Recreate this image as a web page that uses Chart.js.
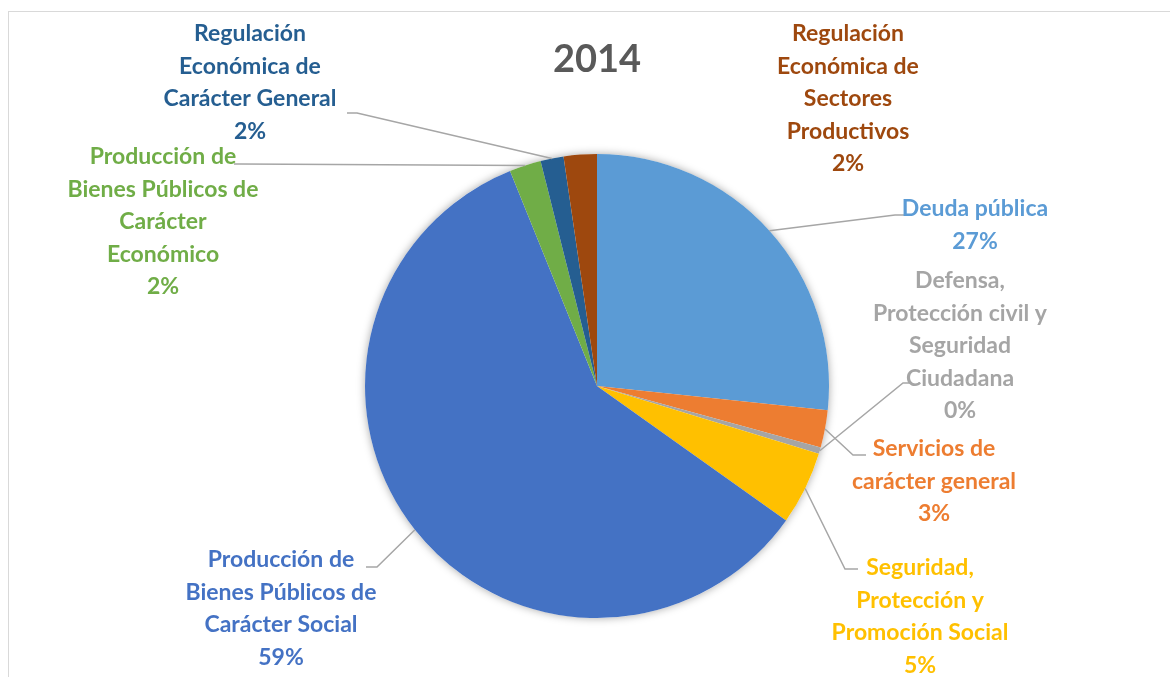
<!DOCTYPE html>
<html lang="es">
<head>
    <meta charset="UTF-8">
    <title>2014</title>
    <script src="https://cdn.jsdelivr.net/npm/chart.js@4.4.1/dist/chart.umd.min.js"></script>
    <style>
        body { margin: 0; background: #fff; }
        .wrap { position: relative; width: 1170px; height: 677px; }
        .frame { position: absolute; left: 8px; top: 11px; right: -2px; bottom: -2px;
                 border-left: 1px solid #d9d9d9; border-top: 1px solid #d9d9d9; }
        canvas { position: absolute; left: 0; top: 0; }
    </style>
</head>
<body>
    <div class="wrap">
        <div class="frame"></div>
        <canvas id="pieChart"></canvas>
    </div>

    <script>
        // Data (clockwise from 12 o'clock)
        const categories = [
            ['Deuda pública'],
            ['Servicios de', 'carácter general'],
            ['Defensa,', 'Protección civil y', 'Seguridad', 'Ciudadana'],
            ['Seguridad,', 'Protección y', 'Promoción Social'],
            ['Producción de', 'Bienes Públicos de', 'Carácter Social'],
            ['Producción de', 'Bienes Públicos de', 'Carácter', 'Económico'],
            ['Regulación', 'Económica de', 'Carácter General'],
            ['Regulación', 'Económica de', 'Sectores', 'Productivos']
        ];
        const shares = [26.6, 2.6, 0.45, 5.1, 58.9, 2.2, 1.6, 2.3];
        const colors = ['#5B9BD5', '#ED7D31', '#A5A5A5', '#FFC000', '#4472C4', '#70AD47', '#255E91', '#9E480E'];

        // label layout: centre x, first line y
        const labelPos = [
            [975, 209], [934, 449], [960, 281], [920, 568],
            [281, 560], [163, 157], [250, 34], [848, 34]
        ];
        // leader lines: elbow x, elbow y, end x, end y
        const leaders = [
            [895, 215, 906, 215],
            [853, 455, 866, 455],
            [903, 383, 912, 383],
            [845, 569, 858, 569],
            [377, 567, 366, 567],
            [240, 164, 234, 164],
            [357, 113, 347, 113],
            null
        ];

        const total = shares.reduce((a, b) => a + b, 0);

        // soft shadow behind the pie
        const shadowPlugin = {
            id: 'pieShadow',
            beforeDatasetsDraw(chart) {
                const arc = chart.getDatasetMeta(0).data[0];
                if (!arc) return;
                const ctx = chart.ctx;
                ctx.save();
                ctx.shadowColor = 'rgba(0,0,0,0.35)';
                ctx.shadowBlur = 8;
                ctx.fillStyle = '#ffffff';
                ctx.beginPath();
                ctx.arc(arc.x, arc.y, arc.outerRadius, 0, Math.PI * 2);
                ctx.fill();
                ctx.restore();
            }
        };

        // outside labels with leader lines
        const labelPlugin = {
            id: 'outsideLabels',
            afterDatasetsDraw(chart) {
                const ctx = chart.ctx;
                const arcs = chart.getDatasetMeta(0).data;
                ctx.save();

                // leader lines
                ctx.strokeStyle = '#A6A6A6';
                ctx.lineWidth = 1.5;
                arcs.forEach((arc, i) => {
                    const l = leaders[i];
                    if (!l) return;
                    const mid = (arc.startAngle + arc.endAngle) / 2;
                    const sx = arc.x + Math.cos(mid) * arc.outerRadius;
                    const sy = arc.y + Math.sin(mid) * arc.outerRadius;
                    ctx.beginPath();
                    ctx.moveTo(sx, sy);
                    ctx.lineTo(l[0], l[1]);
                    ctx.lineTo(l[2], l[3]);
                    ctx.stroke();
                });

                // text
                ctx.font = 'bold 23px Lato';
                ctx.textAlign = 'center';
                ctx.textBaseline = 'middle';
                categories.forEach((lines, i) => {
                    const pct = Math.round(shares[i] / total * 100) + '%';
                    const all = lines.concat([pct]);
                    ctx.fillStyle = colors[i];
                    all.forEach((t, k) => {
                        ctx.fillText(t, labelPos[i][0], labelPos[i][1] + k * 32.5);
                    });
                });
                ctx.restore();
            }
        };

        const ctx = document.getElementById('pieChart').getContext('2d');
        const pieChart = new Chart(ctx, {
            type: 'pie',
            data: {
                labels: categories.map(c => c.join(' ')),
                datasets: [{
                    data: shares,
                    backgroundColor: colors,
                    borderWidth: 0
                }]
            },
            options: {
                responsive: true,
                maintainAspectRatio: false,
                animation: false,
                layout: {
                    padding: { left: 365, right: 341, top: 0, bottom: 59 }
                },
                plugins: {
                    legend: { display: false },
                    tooltip: { enabled: false },
                    title: {
                        display: true,
                        text: '2014',
                        color: '#595959',
                        font: { family: 'Lato', size: 38, weight: 'bold', lineHeight: 1.2 },
                        padding: { top: 37, bottom: 71.4 }
                    }
                }
            },
            plugins: [shadowPlugin, labelPlugin]
        });
    </script>
</body>
</html>
